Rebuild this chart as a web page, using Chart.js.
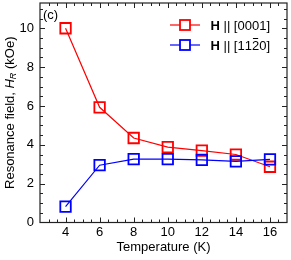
<!DOCTYPE html>
<html><head><meta charset="utf-8">
<script src="https://cdn.jsdelivr.net/npm/chart.js@4"></script>
<style>html,body{margin:0;padding:0;background:#fff}#wrap{width:291px;height:260px}</style>
</head><body><div id="wrap"><canvas id="c" width="291" height="260"></canvas></div>
<script>
const temperatures = [4, 6, 8, 10, 12, 14, 16];
const hParallel0001 = [10.0, 5.93, 4.35, 3.88, 3.7, 3.5, 2.87];
const hParallel1120 = [0.82, 2.95, 3.26, 3.26, 3.22, 3.15, 3.25];
const xTickLabels = [4, 6, 8, 10, 12, 14, 16];
const yTickLabels = [0, 2, 4, 6, 8, 10];
const seriesNames = ['[0001]', '[112\u03040]'];
const panelLabel = '(c)';
const xTitle = 'Temperature (K)';

const FONT = '"Liberation Sans", Arial, sans-serif';

function drawName(ctx, name, x, y) {
  let cx = x;
  const chars = Array.from(name);
  for (let i = 0; i < chars.length; i++) {
    const ch = chars[i];
    if (ch === '\u0304') continue;
    const w = ctx.measureText(ch).width;
    const barred = chars[i + 1] === '\u0304';
    ctx.fillText(ch, cx, y);
    if (barred) {
      ctx.save();
      ctx.strokeStyle = '#000'; ctx.lineWidth = 1;
      ctx.beginPath(); ctx.moveTo(cx + 1, y - 7.5); ctx.lineTo(cx + w - 1, y - 7.5); ctx.stroke();
      ctx.restore();
    }
    cx += w;
  }
}

const decor = {
  id: 'decor',
  afterDraw(chart) {
    const ctx = chart.ctx, a = chart.chartArea;
    const xs = chart.scales.x, ys = chart.scales.y;
    ctx.save();
    ctx.strokeStyle = '#222';
    ctx.lineWidth = 1.2;
    ctx.strokeRect(a.left, a.top, a.right - a.left, a.bottom - a.top);
    ctx.lineWidth = 1;
    for (let v = 3; v <= 17.001; v += 0.5) {
      const px = Math.round(xs.getPixelForValue(v)) + 0.5;
      if (px <= a.left + 1 || px >= a.right - 1) continue;
      const L = (Math.abs(v % 2) < 1e-6) ? 5 : 3;
      ctx.beginPath();
      ctx.moveTo(px, a.bottom); ctx.lineTo(px, a.bottom - L);
      ctx.moveTo(px, a.top); ctx.lineTo(px, a.top + L);
      ctx.stroke();
    }
    for (let v = 0.5; v <= 11.5; v += 0.5) {
      const py = Math.round(ys.getPixelForValue(v)) + 0.5;
      if (py <= a.top + 1 || py >= a.bottom - 1) continue;
      const L = (Math.abs(v % 2) < 1e-6) ? 5 : 3;
      ctx.beginPath();
      ctx.moveTo(a.left, py); ctx.lineTo(a.left + L, py);
      ctx.moveTo(a.right, py); ctx.lineTo(a.right - L, py);
      ctx.stroke();
    }
    ctx.fillStyle = '#000';
    ctx.font = '13px ' + FONT;
    ctx.textBaseline = 'middle';
    ctx.textAlign = 'left';
    ctx.fillText(panelLabel, a.left + 3, a.top + 12);
    const items = [
      {color: '#ff0000', name: seriesNames[0], y: 25},
      {color: '#0000ff', name: seriesNames[1], y: 45}
    ];
    items.forEach(it => {
      ctx.strokeStyle = it.color;
      ctx.lineWidth = 1.2;
      ctx.beginPath(); ctx.moveTo(170, it.y); ctx.lineTo(200, it.y); ctx.stroke();
      ctx.lineWidth = 1.8;
      ctx.fillStyle = '#fff';
      ctx.fillRect(180, it.y - 5, 10, 10);
      ctx.strokeRect(180, it.y - 5, 10, 10);
      ctx.fillStyle = '#000';
      ctx.font = 'bold 13px ' + FONT;
      ctx.fillText('H', 210.5, it.y + 1);
      const w = ctx.measureText('H').width;
      ctx.font = '13px ' + FONT;
      const sep = ' || ';
      ctx.fillText(sep, 210.5 + w, it.y + 1);
      const w2 = ctx.measureText(sep).width;
      drawName(ctx, it.name, 210.5 + w + w2, it.y + 1);
    });
    ctx.textAlign = 'center';
    ctx.fillText(xTitle, (a.left + a.right) / 2, 247);
    ctx.save();
    ctx.translate(10, (a.top + a.bottom) / 2);
    ctx.rotate(-Math.PI / 2);
    const parts = [
      {t: 'Resonance field, ', f: '13px ' + FONT, dy: 0},
      {t: 'H', f: 'italic 13px ' + FONT, dy: 0},
      {t: 'R', f: 'italic 9px ' + FONT, dy: 3},
      {t: ' (kOe)', f: '13px ' + FONT, dy: 0}
    ];
    let total = 0;
    parts.forEach(p => { ctx.font = p.f; p.w = ctx.measureText(p.t).width; total += p.w; });
    let x0 = -total / 2;
    ctx.textAlign = 'left';
    parts.forEach(p => { ctx.font = p.f; ctx.fillText(p.t, x0, p.dy); x0 += p.w; });
    ctx.restore();
    ctx.restore();
  }
};

new Chart(document.getElementById('c'), {
  type: 'line',
  data: {
    datasets: [
      {
        label: 'H || [0001]',
        data: temperatures.map((t, i) => ({x: t, y: hParallel0001[i]})),
        borderColor: '#ff0000', backgroundColor: 'rgba(0,0,0,0)',
        borderWidth: 1.2, pointStyle: 'rect', pointRadius: 7.4,
        pointBorderWidth: 1.8, pointBackgroundColor: 'rgba(0,0,0,0)',
        pointBorderColor: '#ff0000', tension: 0, order: 1
      },
      {
        label: 'H || [11-20]',
        data: temperatures.map((t, i) => ({x: t, y: hParallel1120[i]})),
        borderColor: '#0000ff', backgroundColor: 'rgba(0,0,0,0)',
        borderWidth: 1.2, pointStyle: 'rect', pointRadius: 7.4,
        pointBorderWidth: 1.8, pointBackgroundColor: 'rgba(0,0,0,0)',
        pointBorderColor: '#0000ff', tension: 0, order: 0
      }
    ]
  },
  options: {
    responsive: false, animation: false, devicePixelRatio: 1,
    layout: {autoPadding: false, padding: {top: 3, right: 4, left: 0, bottom: 0}},
    plugins: {legend: {display: false}, tooltip: {enabled: false}},
    scales: {
      x: {
        type: 'linear', min: 2.5, max: 17,
        grid: {display: false, drawTicks: false},
        border: {display: false},
        afterBuildTicks: s => { s.ticks = xTickLabels.map(v => ({value: v})); },
        afterFit: s => { s.height = 37.5; s.paddingLeft = 0; s.paddingRight = 0; },
        ticks: {color: '#000', font: {family: FONT, size: 13}, padding: 2, maxRotation: 0}
      },
      y: {
        type: 'linear', min: 0, max: 11.3,
        grid: {display: false, drawTicks: false},
        border: {display: false},
        afterBuildTicks: s => { s.ticks = yTickLabels.map(v => ({value: v})); },
        afterFit: s => { s.width = 40; s.paddingTop = 0; s.paddingBottom = 0; },
        ticks: {color: '#000', font: {family: FONT, size: 13}, padding: 6}
      }
    }
  },
  plugins: [decor]
});
</script></body></html>
